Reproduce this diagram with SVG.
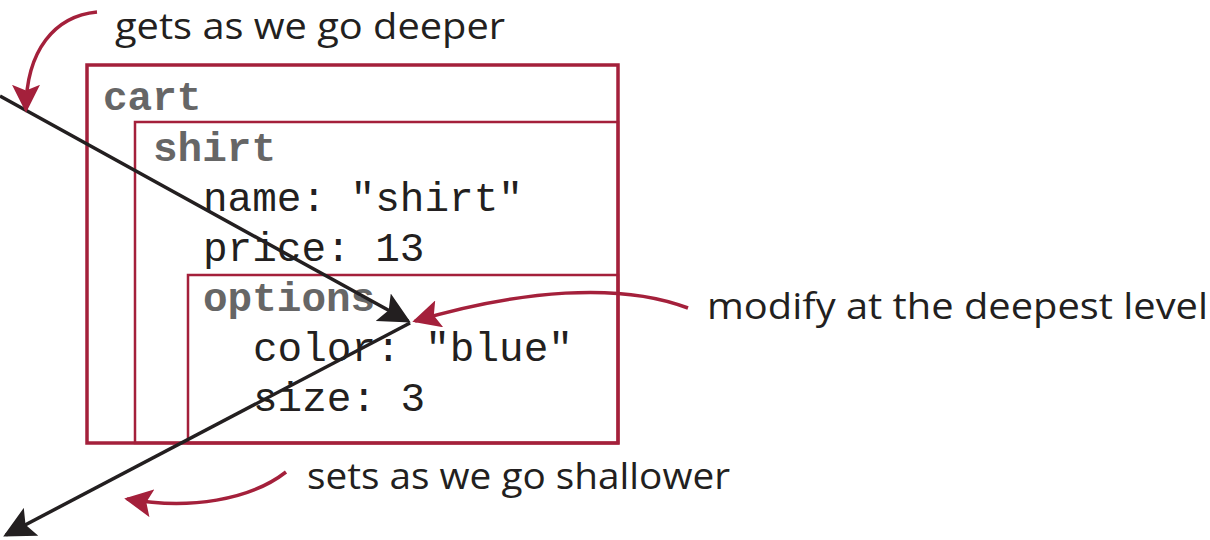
<svg xmlns="http://www.w3.org/2000/svg" width="1210" height="540" viewBox="0 0 1210 540">
<style>
.box{fill:none;stroke:#a4203b}
.code{font-family:"Liberation Mono","Courier New",monospace;font-size:41px;fill:#231f20}
.key{font-weight:bold;fill:#666666}
.hand{font-family:"Open Sans","Noto Sans",sans-serif;font-size:37px;fill:#231f20}
.red{fill:none;stroke:#a4203b;stroke-width:3.5}
.blk{fill:none;stroke:#231f20;stroke-width:3.5}
</style>
<defs>
<marker id="ah-red2" viewBox="0 0 10 10" refX="9" refY="5" markerWidth="8" markerHeight="8" orient="auto">
<path d="M0,0 L10,5 L0,10 L2,5 Z" fill="#a4203b"/>
</marker>
<marker id="ah-blk" viewBox="0 0 10 10" refX="9" refY="5" markerWidth="9" markerHeight="9" orient="auto">
<path d="M0,0 L10,5 L0,10 L2,5 Z" fill="#231f20"/>
</marker>
</defs>
<g id="cart">
<rect class="box" x="87" y="65" width="531" height="378" stroke-width="3.5"/>
<text class="code key" x="103" y="110">cart</text>
</g>
<g id="shirt">
<rect class="box" x="135" y="122" width="483" height="321" stroke-width="2.5"/>
<text class="code key" x="153" y="161">shirt</text>
<text class="code" x="203" y="211">name: "shirt"</text>
<text class="code" x="203" y="261">price: 13</text>
</g>
<g id="options">
<rect class="box" x="188" y="275" width="430" height="168" stroke-width="2.5"/>
<text class="code key" x="203" y="311">options</text>
<text class="code" x="253" y="361">color: "blue"</text>
<text class="code" x="253" y="411">size: 3</text>
</g>
<g id="connectors">
<path class="blk" d="M0,96 L408,321" marker-end="url(#ah-blk)"/>
<path class="blk" d="M410,323 L6,535" marker-end="url(#ah-blk)"/>
<path class="red" d="M97,12 C55,16 26,50 26,110" marker-end="url(#ah-red2)"/>
<path class="red" d="M688,308 C620,282 520,290 415,321" marker-end="url(#ah-red2)"/>
<path class="red" d="M286,472 C250,500 190,510 127,499" marker-end="url(#ah-red2)"/>
</g>
<g id="labels">
<text class="hand" x="115" y="39" textLength="390" lengthAdjust="spacingAndGlyphs">gets as we go deeper</text>
<text class="hand" x="707" y="319" textLength="501" lengthAdjust="spacingAndGlyphs">modify at the deepest level</text>
<text class="hand" x="307" y="489" textLength="423" lengthAdjust="spacingAndGlyphs">sets as we go shallower</text>
</g>
</svg>
